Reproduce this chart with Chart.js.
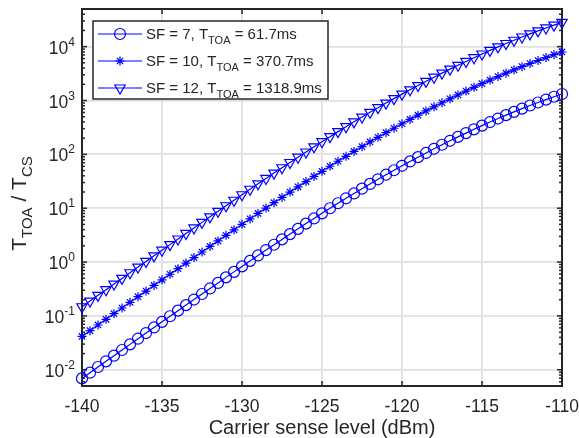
<!DOCTYPE html>
<html lang="en">
<head>
    <meta charset="UTF-8">
    <title>T_TOA / T_CS vs carrier sense level</title>
    <script src="https://cdn.jsdelivr.net/npm/chart.js"></script>
    <style>
        body {
            margin: 0;
            background: #ffffff;
        }

        .chart-container {
            width: 579px;
            height: 438px;
            position: relative;
        }
    </style>
</head>
<body>
    <div class="chart-container">
        <canvas id="toa-chart"></canvas>
    </div>

    <script>
        // Carrier sense level (dBm), one marker every 0.5 dB
        const senseLevels = [
            -140, -139.5, -139, -138.5, -138, -137.5, -137, -136.5, -136, -135.5,
            -135, -134.5, -134, -133.5, -133, -132.5, -132, -131.5, -131, -130.5,
            -130, -129.5, -129, -128.5, -128, -127.5, -127, -126.5, -126, -125.5,
            -125, -124.5, -124, -123.5, -123, -122.5, -122, -121.5, -121, -120.5,
            -120, -119.5, -119, -118.5, -118, -117.5, -117, -116.5, -116, -115.5,
            -115, -114.5, -114, -113.5, -113, -112.5, -112, -111.5, -111, -110.5,
            -110
        ];

        // log10(T_TOA / T_CS)
        const sf7Log = [
            -2.160, -2.054, -1.948, -1.843, -1.738, -1.633, -1.528, -1.423, -1.318, -1.214,
            -1.110, -1.006, -0.902, -0.799, -0.696, -0.593, -0.490, -0.387, -0.284, -0.182,
            -0.080, 0.022, 0.123, 0.223, 0.322, 0.421, 0.519, 0.617, 0.714, 0.810,
            0.905, 0.999, 1.092, 1.184, 1.274, 1.363, 1.451, 1.537, 1.622, 1.705,
            1.788, 1.869, 1.948, 2.026, 2.103, 2.178, 2.252, 2.324, 2.395, 2.465,
            2.533, 2.600, 2.665, 2.728, 2.789, 2.849, 2.907, 2.963, 3.017, 3.070,
            3.121
        ];
        const sf10Log = [
            -1.380, -1.274, -1.168, -1.063, -0.958, -0.853, -0.748, -0.643, -0.538, -0.434,
            -0.330, -0.226, -0.122, -0.019, 0.084, 0.187, 0.290, 0.393, 0.496, 0.598,
            0.700, 0.802, 0.903, 1.003, 1.102, 1.201, 1.299, 1.397, 1.494, 1.590,
            1.685, 1.779, 1.872, 1.964, 2.054, 2.143, 2.231, 2.317, 2.402, 2.485,
            2.568, 2.649, 2.728, 2.806, 2.883, 2.958, 3.032, 3.104, 3.175, 3.245,
            3.313, 3.380, 3.445, 3.508, 3.569, 3.629, 3.687, 3.743, 3.797, 3.850,
            3.901
        ];
        const sf12Log = [
            -0.830, -0.724, -0.618, -0.513, -0.408, -0.303, -0.198, -0.093, 0.012, 0.116,
            0.220, 0.324, 0.428, 0.531, 0.634, 0.737, 0.840, 0.943, 1.046, 1.148,
            1.250, 1.352, 1.453, 1.553, 1.652, 1.751, 1.849, 1.947, 2.044, 2.140,
            2.235, 2.329, 2.422, 2.514, 2.604, 2.693, 2.781, 2.867, 2.952, 3.035,
            3.118, 3.199, 3.278, 3.356, 3.433, 3.508, 3.582, 3.654, 3.725, 3.795,
            3.863, 3.930, 3.995, 4.058, 4.119, 4.179, 4.237, 4.293, 4.347, 4.400,
            4.451
        ];

        // Legend entries: SF, T_TOA
        const spreadingFactors = ['7', '10', '12'];
        const toaLabels = ['61.7ms', '370.7ms', '1318.9ms'];

        // Axis ticks
        const xTicks = [-140, -135, -130, -125, -120, -115, -110];
        const yExponents = [-2, -1, 0, 1, 2, 3, 4];
        const yMin = 0.005;
        const yMax = 50000;

        const BLUE = '#0000ff';
        const AXIS = '#262626';
        const FONT = '"Liberation Sans", Arial, sans-serif';

        function toPoints(logs) {
            return logs.map((v, i) => ({ x: senseLevels[i], y: Math.pow(10, v) }));
        }

        function line(ctx, x1, y1, x2, y2) {
            ctx.beginPath();
            ctx.moveTo(x1, y1);
            ctx.lineTo(x2, y2);
            ctx.stroke();
        }

        // text with a subscript/superscript run; parts = [[text, size, dy], ...]
        function drawRuns(ctx, parts, x, y) {
            let cx = x;
            parts.forEach(([txt, size, dy]) => {
                ctx.font = size + 'px ' + FONT;
                ctx.fillText(txt, cx, y + dy);
                cx += ctx.measureText(txt).width;
            });
            return cx;
        }

        function runsWidth(ctx, parts) {
            let w = 0;
            parts.forEach(([txt, size]) => {
                ctx.font = size + 'px ' + FONT;
                w += ctx.measureText(txt).width;
            });
            return w;
        }

        function drawMarker(ctx, style, x, y) {
            ctx.beginPath();
            if (style === 'circle') {
                ctx.arc(x, y, 5.5, 0, Math.PI * 2);
            } else if (style === 'star') {
                const r = 4.5, d = r * Math.SQRT1_2;
                ctx.moveTo(x - r, y); ctx.lineTo(x + r, y);
                ctx.moveTo(x, y - r); ctx.lineTo(x, y + r);
                ctx.moveTo(x - d, y - d); ctx.lineTo(x + d, y + d);
                ctx.moveTo(x - d, y + d); ctx.lineTo(x + d, y - d);
            } else {
                const r = 6;
                ctx.moveTo(x, y + r);
                ctx.lineTo(x - r * 0.866, y - r / 2);
                ctx.lineTo(x + r * 0.866, y - r / 2);
                ctx.closePath();
            }
            ctx.stroke();
        }

        const matlabAxes = {
            id: 'matlabAxes',
            beforeDatasetsDraw(chart) {
                const { ctx, chartArea: a, scales: { x, y } } = chart;
                ctx.save();
                ctx.strokeStyle = AXIS;
                ctx.lineWidth = 1.5;
                xTicks.forEach(v => {
                    const px = x.getPixelForValue(v);
                    line(ctx, px, a.bottom, px, a.bottom - 5);
                    line(ctx, px, a.top, px, a.top + 5);
                });
                for (let e = -3; e <= 4; e++) {
                    for (let m = 1; m <= 9; m++) {
                        const v = m * Math.pow(10, e);
                        if (v < yMin * 0.999 || v > yMax * 1.001) continue;
                        const py = y.getPixelForValue(v);
                        const len = m === 1 ? 5 : 3;
                        line(ctx, a.left, py, a.left + len, py);
                        line(ctx, a.right, py, a.right - len, py);
                    }
                }
                ctx.lineWidth = 2;
                ctx.strokeRect(a.left, a.top, a.right - a.left, a.bottom - a.top);
                ctx.restore();
            },
            afterDraw(chart) {
                const { ctx, chartArea: a, scales: { x, y } } = chart;
                ctx.save();
                ctx.fillStyle = AXIS;
                ctx.textBaseline = 'alphabetic';

                // x tick labels
                ctx.font = '17.5px ' + FONT;
                ctx.textAlign = 'center';
                xTicks.forEach(v => {
                    ctx.fillText(String(v), x.getPixelForValue(v), a.bottom + 26);
                });

                // y tick labels 10^n
                ctx.textAlign = 'left';
                yExponents.forEach(e => {
                    const parts = [['10', 17.5, 0], [String(e), 12, -8]];
                    const w = runsWidth(ctx, parts);
                    drawRuns(ctx, parts, a.left - 7 - w, y.getPixelForValue(Math.pow(10, e)) + 7);
                });

                // x title
                ctx.font = '20px ' + FONT;
                ctx.textAlign = 'center';
                ctx.fillText('Carrier sense level (dBm)', (a.left + a.right) / 2, a.bottom + 48);

                // y title
                ctx.textAlign = 'left';
                const yTitle = [['T', 21, 0], ['TOA', 15, 6], [' / T', 21, 0], ['CS', 15, 6]];
                const tw = runsWidth(ctx, yTitle);
                ctx.translate(26, (a.top + a.bottom) / 2 + 6);
                ctx.rotate(-Math.PI / 2);
                drawRuns(ctx, yTitle, -tw / 2, 0);
                ctx.setTransform(1, 0, 0, 1, 0, 0);

                // legend
                const box = { left: 93, top: 21, right: 328, bottom: 99 };
                ctx.fillStyle = '#ffffff';
                ctx.fillRect(box.left, box.top, box.right - box.left, box.bottom - box.top);
                ctx.strokeStyle = AXIS;
                ctx.lineWidth = 1.5;
                ctx.strokeRect(box.left, box.top, box.right - box.left, box.bottom - box.top);
                const rows = [34, 61, 88];
                const styles = ['circle', 'star', 'triangle'];
                rows.forEach((ry, i) => {
                    ctx.strokeStyle = BLUE;
                    ctx.lineWidth = 1.2;
                    line(ctx, 98, ry, 142, ry);
                    drawMarker(ctx, styles[i], 120, ry);
                    ctx.fillStyle = AXIS;
                    drawRuns(ctx, [
                        ['SF = ' + spreadingFactors[i] + ', T', 15, 0],
                        ['TOA', 11, 5],
                        [' = ' + toaLabels[i], 15, 0]
                    ], 146, ry + 5);
                });
                ctx.restore();
            }
        };

        function dataset(label, logs, style) {
            return {
                label: label,
                data: toPoints(logs),
                borderColor: BLUE,
                borderWidth: 1.2,
                backgroundColor: 'rgba(0,0,0,0)',
                pointStyle: style,
                pointRadius: style === 'star' ? 4.5 : (style === 'triangle' ? 6 : 5.5),
                pointRotation: style === 'triangle' ? 180 : 0,
                pointBorderColor: BLUE,
                pointBackgroundColor: 'rgba(0,0,0,0)',
                pointBorderWidth: 1.2,
                tension: 0,
                clip: false
            };
        }

        const ctx = document.getElementById('toa-chart').getContext('2d');
        new Chart(ctx, {
            type: 'line',
            data: {
                datasets: [
                    dataset('SF = 7', sf7Log, 'circle'),
                    dataset('SF = 10', sf10Log, 'star'),
                    dataset('SF = 12', sf12Log, 'triangle')
                ]
            },
            options: {
                responsive: true,
                maintainAspectRatio: false,
                animation: false,
                events: [],
                layout: { padding: { left: 82, top: 9, right: 17, bottom: 52 } },
                plugins: { legend: { display: false }, tooltip: { enabled: false } },
                scales: {
                    x: {
                        type: 'linear',
                        min: -140,
                        max: -110,
                        afterBuildTicks: s => { s.ticks = xTicks.map(v => ({ value: v })); },
                        afterFit: s => { s.height = 0; },
                        ticks: { display: false },
                        border: { display: false },
                        grid: { color: '#e0e0e0', lineWidth: 1.8, drawTicks: false }
                    },
                    y: {
                        type: 'logarithmic',
                        min: yMin,
                        max: yMax,
                        afterBuildTicks: s => { s.ticks = yExponents.map(e => ({ value: Math.pow(10, e) })); },
                        afterFit: s => { s.width = 0; },
                        ticks: { display: false },
                        border: { display: false },
                        grid: { color: '#e0e0e0', lineWidth: 1.8, drawTicks: false }
                    }
                }
            },
            plugins: [matlabAxes]
        });
    </script>
</body>
</html>
